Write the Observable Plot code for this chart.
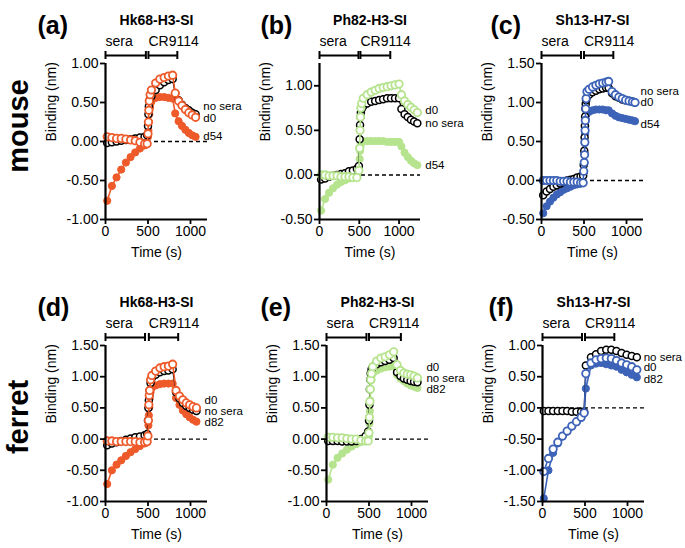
<!DOCTYPE html>
<html><head><meta charset="utf-8">
<script src="https://cdn.jsdelivr.net/npm/d3@7"></script>
<script src="https://cdn.jsdelivr.net/npm/@observablehq/plot@0.6"></script>
<style>
body{margin:0;background:#fff;}
#wrap{position:relative;width:685px;height:548px;background:#fff;overflow:hidden;font-family:"Liberation Sans",Arial,Helvetica,sans-serif;}
#wrap svg{position:absolute;overflow:visible;}
.rowlab{position:absolute;width:200px;height:40px;line-height:40px;text-align:center;font-weight:bold;font-size:29px;color:#000;transform:rotate(-90deg);transform-origin:center center;}
</style></head>
<body><div id="wrap"></div>
<script>
// ---------------- data ----------------
const panelLetters = ["(a)", "(b)", "(c)", "(d)", "(e)", "(f)"];
const panelTitles = ["Hk68-H3-SI", "Ph82-H3-SI", "Sh13-H7-SI", "Hk68-H3-SI", "Ph82-H3-SI", "Sh13-H7-SI"];
const rowLabels = ["mouse", "ferret"];
const seriesTop = ["no sera", "d0", "d54"];
const seriesBottom = ["no sera", "d0", "d82"];
const phaseNames = ["sera", "CR9114"];
const xTicks = [0, 500, 1000];

// panel (a) mouse Hk68
const timeA = [20, 75, 130, 185, 240, 295, 350, 405, 460, 490, 500, 505, 510, 515, 525, 540, 590, 640, 690, 740, 790, 820, 860, 900, 940, 980, 1020, 1060];
const noSeraA = [-0.02, -0.01, 0.0, 0.01, 0.02, 0.03, 0.04, 0.05, 0.06, 0.08, 0.2, 0.35, 0.45, 0.52, 0.55, 0.58, 0.66, 0.72, 0.76, 0.79, 0.8, 0.62, 0.53, 0.47, 0.43, 0.4, 0.37, 0.35];
const d0A = [0.06, 0.05, 0.04, 0.04, 0.03, 0.02, 0.01, -0.01, -0.03, -0.03, 0.1, 0.25, 0.4, 0.52, 0.6, 0.66, 0.75, 0.8, 0.82, 0.84, 0.85, 0.62, 0.52, 0.46, 0.41, 0.37, 0.34, 0.31];
const d54A = [-0.76, -0.57, -0.46, -0.36, -0.27, -0.2, -0.14, -0.09, -0.05, -0.03, 0.06, 0.14, 0.25, 0.35, 0.44, 0.51, 0.56, 0.57, 0.57, 0.56, 0.55, 0.36, 0.26, 0.2, 0.15, 0.11, 0.08, 0.06];

// panel (b) mouse Ph82
const timeB = [20, 70, 120, 170, 220, 270, 320, 370, 420, 470, 495, 505, 510, 515, 520, 530, 550, 600, 650, 700, 750, 800, 850, 900, 950, 1000, 1030, 1070, 1110, 1150, 1190, 1230];
const noSeraB = [-0.05, -0.04, -0.02, -0.01, 0.0, 0.01, 0.02, 0.04, 0.05, 0.07, 0.1, 0.4, 0.56, 0.65, 0.7, 0.74, 0.77, 0.8, 0.82, 0.83, 0.84, 0.85, 0.86, 0.86, 0.86, 0.86, 0.74, 0.68, 0.65, 0.62, 0.6, 0.58];
const d0B = [0.0, 0.0, -0.01, -0.01, -0.01, -0.02, -0.02, -0.02, -0.03, -0.03, 0.05, 0.3, 0.5, 0.65, 0.75, 0.8, 0.86, 0.9, 0.93, 0.95, 0.97, 0.98, 0.99, 1.0, 1.01, 1.02, 0.9, 0.83, 0.79, 0.76, 0.73, 0.7];
const d54B = [-0.4, -0.27, -0.2, -0.15, -0.11, -0.08, -0.06, -0.04, -0.03, -0.02, 0.05, 0.18, 0.27, 0.32, 0.35, 0.37, 0.38, 0.38, 0.38, 0.38, 0.38, 0.38, 0.37, 0.37, 0.37, 0.37, 0.32, 0.25, 0.2, 0.16, 0.13, 0.11];

// panel (c) mouse Sh13
const timeC = [20, 60, 100, 140, 180, 220, 260, 300, 340, 380, 420, 460, 490, 497, 503, 507, 510, 513, 516, 520, 525, 535, 560, 600, 640, 680, 720, 760, 790, 830, 870, 910, 950, 990, 1030, 1070, 1100];
const noSeraC = [-0.19, -0.14, -0.11, -0.08, -0.06, -0.04, -0.02, 0.0, 0.01, 0.02, 0.04, 0.05, 0.06, 0.2, 0.38, 0.55, 0.7, 0.82, 0.92, 0.98, 1.03, 1.07, 1.1, 1.13, 1.15, 1.17, 1.18, 1.19, 1.19, 1.12, 1.08, 1.06, 1.04, 1.03, 1.02, 1.01, 1.0];
const d0C = [0.0, 0.0, 0.0, 0.0, 0.0, -0.01, -0.01, -0.01, -0.02, -0.02, -0.02, -0.03, -0.03, 0.12, 0.23, 0.33, 0.49, 0.64, 0.77, 0.92, 1.05, 1.14, 1.17, 1.2, 1.22, 1.24, 1.25, 1.26, 1.27, 1.14, 1.1, 1.07, 1.05, 1.03, 1.02, 1.01, 1.0];
const d54C = [-0.42, -0.33, -0.27, -0.22, -0.18, -0.15, -0.12, -0.1, -0.08, -0.06, -0.05, -0.04, -0.03, 0.1, 0.22, 0.35, 0.48, 0.6, 0.7, 0.78, 0.84, 0.87, 0.88, 0.9, 0.91, 0.91, 0.91, 0.9, 0.9, 0.86, 0.83, 0.81, 0.8, 0.79, 0.78, 0.77, 0.76];

// panel (d) ferret Hk68
const timeD = [20, 75, 130, 185, 240, 295, 350, 405, 460, 490, 500, 505, 510, 515, 520, 530, 545, 590, 640, 690, 740, 790, 830, 870, 910, 950, 990, 1030, 1070];
const noSeraD = [-0.1, -0.07, -0.05, -0.03, -0.01, 0.01, 0.03, 0.04, 0.06, 0.08, 0.3, 0.5, 0.62, 0.7, 0.78, 0.9, 0.98, 1.03, 1.07, 1.09, 1.1, 1.12, 0.75, 0.65, 0.58, 0.53, 0.5, 0.47, 0.45];
const d0D = [-0.03, -0.03, -0.04, -0.04, -0.04, -0.04, -0.04, -0.05, -0.05, -0.04, 0.05, 0.3, 0.55, 0.7, 0.78, 0.95, 1.02, 1.09, 1.14, 1.16, 1.17, 1.2, 0.78, 0.69, 0.63, 0.58, 0.55, 0.52, 0.5];
const d82D = [-0.72, -0.5, -0.41, -0.34, -0.27, -0.21, -0.16, -0.11, -0.07, -0.05, 0.05, 0.22, 0.38, 0.51, 0.65, 0.75, 0.82, 0.86, 0.88, 0.89, 0.89, 0.89, 0.66, 0.55, 0.46, 0.4, 0.35, 0.31, 0.28];

// panel (e) ferret Ph82
const timeE = [20, 75, 130, 185, 240, 295, 350, 405, 460, 490, 500, 505, 510, 515, 520, 530, 545, 590, 640, 690, 740, 790, 830, 870, 910, 950, 990, 1030, 1070];
const noSeraE = [-0.03, -0.03, -0.03, -0.04, -0.04, -0.04, -0.03, 0.0, 0.05, 0.12, 0.3, 0.55, 0.8, 0.95, 1.05, 1.12, 1.16, 1.2, 1.23, 1.25, 1.27, 1.3, 1.07, 1.01, 0.97, 0.95, 0.93, 0.92, 0.91];
const d0E = [0.03, 0.03, 0.02, 0.02, 0.01, 0.0, 0.0, -0.02, -0.03, -0.03, 0.1, 0.35, 0.6, 0.8, 0.95, 1.05, 1.16, 1.25, 1.3, 1.32, 1.35, 1.4, 1.19, 1.1, 1.06, 1.04, 1.03, 1.01, 0.98];
const d82E = [-0.65, -0.41, -0.3, -0.23, -0.17, -0.12, -0.08, -0.05, -0.03, -0.02, 0.05, 0.25, 0.45, 0.62, 0.8, 0.95, 1.05, 1.1, 1.13, 1.15, 1.16, 1.17, 1.03, 0.97, 0.93, 0.89, 0.86, 0.84, 0.82];

// panel (f) ferret Sh13
const timeF = [15, 70, 125, 180, 235, 290, 345, 400, 455, 490, 510, 570, 630, 690, 750, 810, 870, 930, 990, 1050, 1110];
const noSeraF = [-0.05, -0.05, -0.05, -0.05, -0.05, -0.05, -0.06, -0.06, -0.06, -0.06, 0.68, 0.81, 0.86, 0.91, 0.93, 0.93, 0.91, 0.88, 0.85, 0.83, 0.81];
const d0F = [-1.02, -0.81, -0.66, -0.55, -0.45, -0.37, -0.29, -0.22, -0.15, -0.08, 0.55, 0.72, 0.77, 0.79, 0.8, 0.79, 0.76, 0.72, 0.69, 0.66, 0.61];
const d82F = [-1.45, -1.0, -0.72, -0.57, -0.46, -0.38, -0.3, -0.23, -0.16, -0.08, 0.31, 0.68, 0.71, 0.72, 0.7, 0.68, 0.66, 0.61, 0.57, 0.53, 0.49];

// series end labels (y values, in order no sera, d0, dXX) and their time position
const labelYA = [0.44, 0.29, 0.06], labelYB = [0.58, 0.72, 0.1], labelYC = [1.14, 1.0, 0.72];
const labelYD = [0.44, 0.62, 0.26], labelYE = [0.97, 1.15, 0.79], labelYF = [0.81, 0.64, 0.45];
const labelTime = [1150, 1330, 1165, 1165, 1175, 1190];

// phase brackets [start, end] in seconds
const seraPhase = [[0, 475], [0, 490], [0, 465], [0, 465], [0, 470], [0, 465]];
const crPhase = [[505, 845], [515, 890], [500, 845], [510, 855], [500, 875], [500, 845]];

// axes
const xMax = [1200, 1270, 1200, 1200, 1200, 1200];
const yDomains = [[-1, 1], [-0.5, 1.25], [-0.5, 1.5], [-1, 1.5], [-1, 1.5], [-1.5, 1]];
const yTicks = [[-1, -0.5, 0, 0.5, 1], [-0.5, 0, 0.5, 1], [-0.5, 0, 0.5, 1, 1.5], [-1, -0.5, 0, 0.5, 1, 1.5], [-1, -0.5, 0, 0.5, 1, 1.5], [-1.5, -1, -0.5, 0, 0.5, 1]];
const colors = ["#ee5a2a", "#b6e48e", "#3d63b8", "#ee5a2a", "#b6e48e", "#3d63b8"];

// ---------------- layout ----------------
const axisLeft = [105, 319, 541, 105, 326, 542];
const plotTop = [0, 0, 0, 282, 282, 282];
const plotWidth = [102, 101, 102, 102, 102, 102];
const letterDx = [-68, -59, -51, -68, -66, -54];
const ML = 75, MR = 30, MT = 63, MB = 47, H = 266;

const times = [timeA, timeB, timeC, timeD, timeE, timeF];
const noSera = [noSeraA, noSeraB, noSeraC, noSeraD, noSeraE, noSeraF];
const d0 = [d0A, d0B, d0C, d0D, d0E, d0F];
const dLate = [d54A, d54B, d54C, d82D, d82E, d82F];
const labelYs = [labelYA, labelYB, labelYC, labelYD, labelYE, labelYF];

const wrap = document.getElementById("wrap");
const FONT = '"Liberation Sans", Arial, Helvetica, sans-serif';

function makePanel(i) {
  const names = i < 3 ? seriesTop : seriesBottom;
  const T = times[i];
  const toRows = (V) => T.map((t, k) => ({t, v: V[k]}));
  const ns = toRows(noSera[i]), s0 = toRows(d0[i]), sl = toRows(dLate[i]);
  const col = colors[i];
  const yTop = yDomains[i][1], yBot = yDomains[i][0];
  const brackets = [
    {a: seraPhase[i][0], b: seraPhase[i][1], n: phaseNames[0]},
    {a: crPhase[i][0], b: crPhase[i][1], n: phaseNames[1]}
  ];
  const caps = brackets.flatMap(b => [b.a, b.b]);
  const labels = names.map((n, k) => ({t: labelTime[i], v: labelYs[i][k], n}));
  const fmt = d => d.toFixed(2);
  const chart = Plot.plot({
    width: ML + plotWidth[i] + MR, height: H,
    marginLeft: ML, marginRight: MR, marginTop: MT, marginBottom: MB,
    style: {fontFamily: FONT, fontSize: "14px", background: "transparent", overflow: "visible", color: "#000"},
    x: {domain: [0, xMax[i]]},
    y: {domain: yDomains[i]},
    marks: [
      Plot.ruleY([0], {x1: 0, x2: xMax[i], stroke: "#000", strokeWidth: 1.4, strokeDasharray: "4,3"}),
      Plot.line(sl, {x: "t", y: "v", stroke: col, strokeWidth: 1.6}),
      Plot.dot(sl, {x: "t", y: "v", r: 3.6, fill: col, stroke: col, strokeWidth: 1}),
      Plot.line(ns, {x: "t", y: "v", stroke: "#000", strokeWidth: 1.4}),
      Plot.dot(ns, {x: "t", y: "v", r: 3.5, fill: "#fff", stroke: "#000", strokeWidth: 1.5}),
      Plot.line(s0, {x: "t", y: "v", stroke: col, strokeWidth: 1.6}),
      Plot.dot(s0, {x: "t", y: "v", r: 3.7, fill: "#fff", stroke: col, strokeWidth: 1.8}),
      Plot.ruleX([0], {stroke: "#000", strokeWidth: 2.2}),
      Plot.ruleY([yBot], {stroke: "#000", strokeWidth: 2.2}),
      Plot.axisY({ticks: yTicks[i], tickFormat: fmt, tickSize: 5, tickPadding: 2, strokeWidth: 1.8, label: null, fontSize: 14}),
      Plot.axisX({ticks: xTicks, tickFormat: d => String(d), tickSize: 5, tickPadding: 2, strokeWidth: 1.8, label: null, fontSize: 14}),
      Plot.text(["Binding (nm)"], {text: d => d, frameAnchor: "left", rotate: -90, dx: -54, fontSize: 14}),
      Plot.text(["Time (s)"], {text: d => d, frameAnchor: "bottom", dy: 37, fontSize: 14}),
      Plot.ruleY(brackets, {x1: "a", x2: "b", y: yTop, dy: -8, stroke: "#000", strokeWidth: 2}),
      Plot.ruleX(caps, {x: d => d, y1: yTop, y2: yTop, dy: -8, insetTop: -4, insetBottom: -4, stroke: "#000", strokeWidth: 2}),
      Plot.text(brackets, {x: "a", y: yTop, text: "n", dy: -22, textAnchor: "start", fontSize: 14}),
      Plot.text(labels, {x: "t", y: "v", text: "n", textAnchor: "start", fontSize: 11.5, lineHeight: 0.9}),
      Plot.text([panelTitles[i]], {text: d => d, frameAnchor: "top", dy: -48, fontWeight: "bold", fontSize: 14}),
      Plot.text([panelLetters[i]], {text: d => d, frameAnchor: "top-left", dx: letterDx[i], dy: -47, textAnchor: "start", fontWeight: "bold", fontSize: 25})
    ]
  });
  chart.style.left = (axisLeft[i] - ML) + "px";
  chart.style.top = plotTop[i] + "px";
  wrap.appendChild(chart);
}
for (let i = 0; i < 6; i++) makePanel(i);

// row labels
const rowCenters = [[18, 126], [18, 417]];
rowLabels.forEach((txt, k) => {
  const d = document.createElement("div");
  d.className = "rowlab";
  d.textContent = txt;
  d.style.left = (rowCenters[k][0] - 100) + "px";
  d.style.top = (rowCenters[k][1] - 20) + "px";
  wrap.appendChild(d);
});
</script>
</body></html>
